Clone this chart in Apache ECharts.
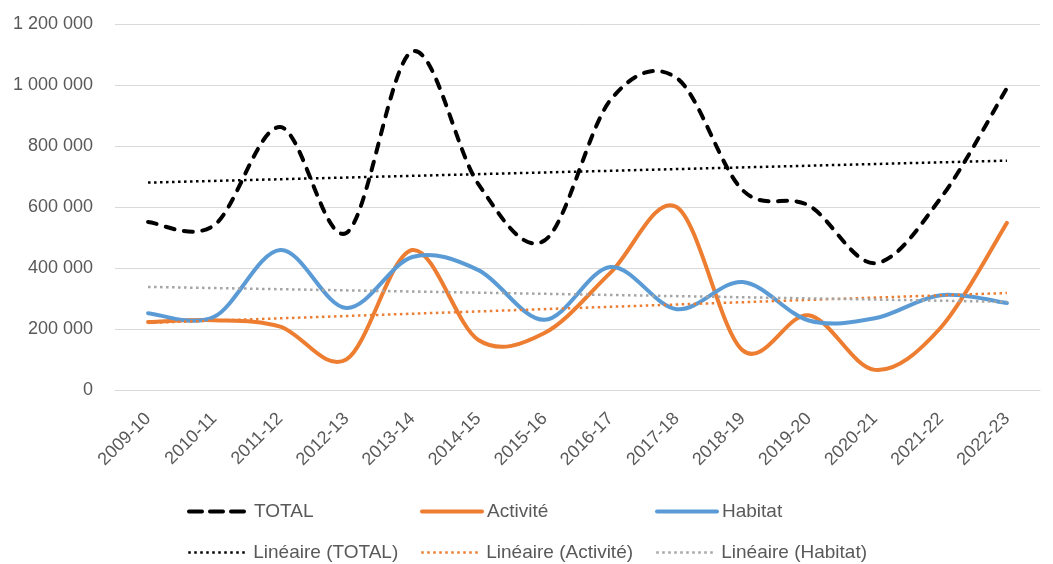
<!DOCTYPE html>
<html>
<head>
<meta charset="UTF-8">
<title>TOTAL / Activité / Habitat</title>
<script src="https://cdn.jsdelivr.net/npm/echarts@6/dist/echarts.min.js"></script>
<style>
  html, body { margin: 0; padding: 0; background: #fff; }
  #main { width: 1053px; height: 564px; }
</style>
</head>
<body>
<div id="main"></div>
<script type="text/javascript">
// données
var categories = ['2009-10', '2010-11', '2011-12', '2012-13', '2013-14', '2014-15', '2015-16',
  '2016-17', '2017-18', '2018-19', '2019-20', '2020-21', '2021-22', '2022-23'];
var total = [551000, 540000, 862000, 515000, 1110000, 675000, 490000,
  951000, 1023000, 655000, 605000, 416000, 630000, 990000];
var activite = [223000, 229000, 208000, 100000, 459000, 164000, 187000,
  385000, 600000, 130000, 245000, 66000, 205000, 548000];
var habitat = [252000, 240000, 459000, 269000, 436000, 393000, 230000,
  403000, 265000, 354000, 228000, 235000, 311000, 285000];
// tendances linéaires : valeur au début et à la fin
var trendTotal = [680000, 752000];
var trendActivite = [220000, 318000];
var trendHabitat = [338000, 289000];

var TXT = '#595959';
var FONT = 'Liberation Sans';
var BLACK = '#000000', ORANGE = '#ED7D31', BLUE = '#5B9BD5', GREY = '#A5A5A5';
var DASH = [9, 9.5], DOT = [2.5, 3.5];

function fmt(v) {
  return String(v).replace(/\B(?=(\d{3})+(?!\d))/g, ' ');
}
function trend(ends) {
  return [[categories[0], ends[0]], [categories[categories.length - 1], ends[1]]];
}

// courbe lissée façon Excel (Catmull-Rom), passe par chaque point
function splineSeries(name, values, color, dash) {
  return {
    name: name,
    type: 'custom',
    data: values.map(function (v, i) { return [i, v]; }),
    encode: { x: 0, y: 1 },
    silent: true,
    renderItem: function (params, api) {
      if (params.dataIndex !== 0) return null;
      var p = values.map(function (v, i) { return api.coord([i, v]); });
      var n = p.length;
      var d = 'M' + p[0][0] + ' ' + p[0][1];
      for (var i = 0; i < n - 1; i++) {
        var p0 = p[Math.max(i - 1, 0)], p1 = p[i], p2 = p[i + 1], p3 = p[Math.min(i + 2, n - 1)];
        var c1x = p1[0] + (p2[0] - p0[0]) / 6, c1y = p1[1] + (p2[1] - p0[1]) / 6;
        var c2x = p2[0] - (p3[0] - p1[0]) / 6, c2y = p2[1] - (p3[1] - p1[1]) / 6;
        d += ' C' + c1x + ' ' + c1y + ' ' + c2x + ' ' + c2y + ' ' + p2[0] + ' ' + p2[1];
      }
      return {
        type: 'path',
        shape: { pathData: d },
        style: { fill: 'none', stroke: color, lineWidth: 4, lineDash: dash || null, lineCap: 'round', lineJoin: 'round' }
      };
    }
  };
}

// séries "line" vides : elles ne servent qu'à l'icône de légende
function legendSeries(name, color, width, type) {
  return {
    name: name, type: 'line', data: [], symbol: 'none',
    itemStyle: { color: color },
    lineStyle: { color: color, width: width, type: type }
  };
}

function legendAt(name, left, top, color, width, type, cap) {
  return {
    data: [name],
    left: left,
    top: top,
    itemWidth: 60,
    itemHeight: 14,
    itemStyle: { opacity: 0 },
    lineStyle: { color: color, width: width, type: type, cap: cap || 'butt', opacity: 1 },
    textStyle: { color: TXT, fontSize: 19, fontFamily: FONT }
  };
}

var myChart = echarts.init(document.getElementById('main'));
var option = {
  animation: false,
  grid: { left: 115, right: 13, top: 24, bottom: 174 },
  legend: [
    legendAt('TOTAL', 182, 497, BLACK, 4, [13, 8], 'round'),
    legendAt('Activité', 415, 497, ORANGE, 4, 'solid', 'round'),
    legendAt('Habitat', 650, 497, BLUE, 4, 'solid', 'round'),
    legendAt('Linéaire (TOTAL)', 182, 538, BLACK, 2.5, DOT),
    legendAt('Linéaire (Activité)', 415, 538, ORANGE, 2.5, DOT),
    legendAt('Linéaire (Habitat)', 650, 538, GREY, 2.5, DOT)
  ],
  xAxis: {
    type: 'category',
    data: categories,
    boundaryGap: true,
    axisLine: { lineStyle: { color: '#D9D9D9', width: 1 } },
    axisTick: { show: false },
    axisLabel: { rotate: 45, margin: 26, color: TXT, fontSize: 18, fontFamily: FONT, interval: 0 }
  },
  yAxis: {
    type: 'value',
    min: 0,
    max: 1200000,
    interval: 200000,
    axisLine: { show: false },
    axisTick: { show: false },
    splitLine: { lineStyle: { color: '#D9D9D9', width: 1 } },
    axisLabel: { color: TXT, fontSize: 18, fontFamily: FONT, margin: 22, formatter: fmt }
  },
  series: [
    legendSeries('TOTAL', BLACK, 4, DASH),
    legendSeries('Activité', ORANGE, 4, 'solid'),
    legendSeries('Habitat', BLUE, 4, 'solid'),
    splineSeries('TOTAL', total, BLACK, DASH),
    splineSeries('Activité', activite, ORANGE),
    splineSeries('Habitat', habitat, BLUE),
    {
      name: 'Linéaire (TOTAL)', type: 'line', data: trend(trendTotal), symbol: 'none',
      itemStyle: { color: BLACK },
      lineStyle: { color: BLACK, width: 2.5, type: DOT }
    },
    {
      name: 'Linéaire (Activité)', type: 'line', data: trend(trendActivite), symbol: 'none',
      itemStyle: { color: ORANGE },
      lineStyle: { color: ORANGE, width: 2.5, type: DOT }
    },
    {
      name: 'Linéaire (Habitat)', type: 'line', data: trend(trendHabitat), symbol: 'none',
      itemStyle: { color: GREY },
      lineStyle: { color: GREY, width: 2.5, type: DOT }
    }
  ]
};
myChart.setOption(option);
</script>
</body>
</html>
